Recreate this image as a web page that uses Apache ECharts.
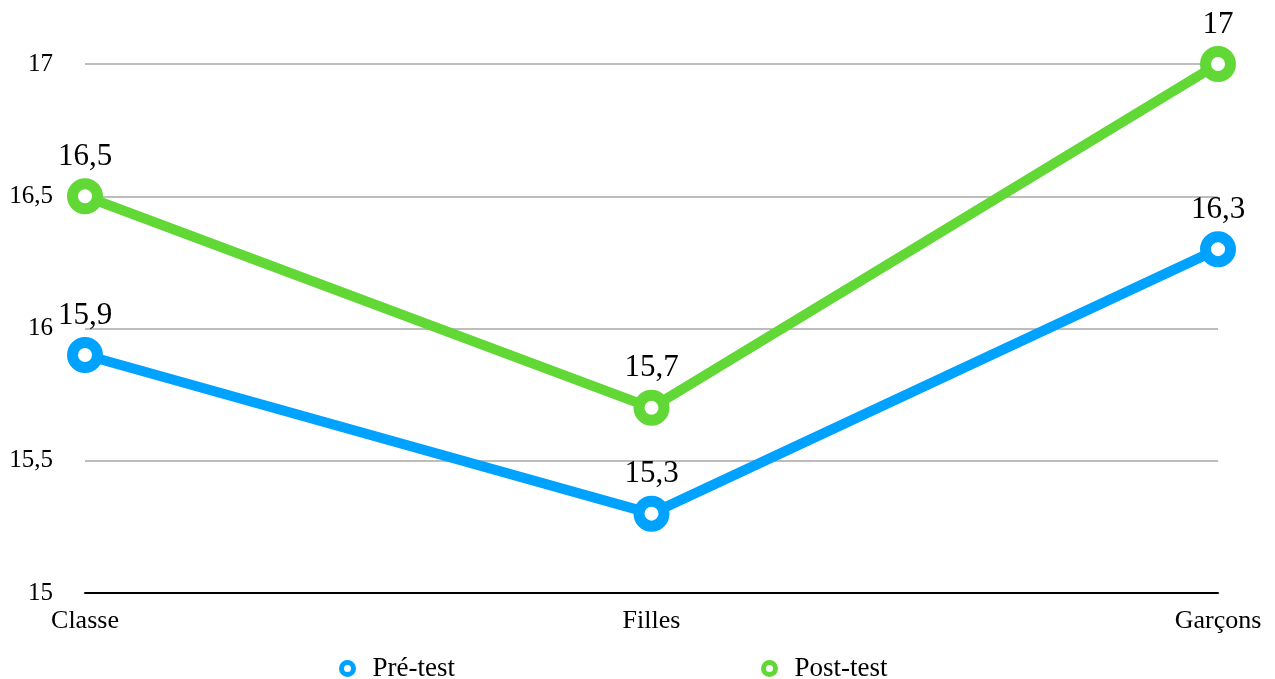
<!DOCTYPE html>
<html>
<head>
<meta charset="utf-8">
<script src="https://cdn.jsdelivr.net/npm/echarts@6/dist/echarts.min.js"></script>
<style>
    html, body { margin: 0; padding: 0; background: #ffffff; }
    #chart { width: 1275px; height: 679px; }
</style>
</head>
<body>
<div id="chart"></div>
<script>
    // data
    var categories = ["Classe", "Filles", "Garçons"];
    var preTest = [15.9, 15.3, 16.3];
    var postTest = [16.5, 15.7, 17];
    var seriesNames = ["Pré-test", "Post-test"];
    var seriesColors = ["#00A2FF", "#61D836"];

    var font = "'Liberation Serif', 'DejaVu Serif', serif";
    var comma = function (v) { return String(v).replace('.', ','); };

    function makeSeries(name, data, color){
        return {
            name: name,
            type: 'line',
            data: data,
            symbol: 'circle',
            symbolSize: 25,
            lineStyle: { width: 10, color: color },
            itemStyle: { color: '#ffffff', borderColor: color, borderWidth: 11 },
            label: {
                show: true,
                position: 'top',
                distance: 6,
                color: '#000000',
                fontFamily: font,
                fontSize: 31,
                formatter: function (p) { return comma(p.value); }
            },
            emphasis: { disabled: true },
            z: 3
        };
    }

    function makeLegend(i, left){
        return {
            data: [{ name: seriesNames[i], itemStyle: { color: '#ffffff', borderColor: seriesColors[i], borderWidth: 5 } }],
            left: left, top: 650,
            icon: 'circle', itemWidth: 12, itemHeight: 12,
            textStyle: { fontFamily: font, fontSize: 27, color: '#000000', padding: [0, 0, 0, 14] }
        };
    }

    var chart = echarts.init(document.getElementById('chart'));
    chart.setOption({
        animation: false,
        backgroundColor: '#ffffff',
        grid: { left: 85, right: 57, top: 64, bottom: 86, containLabel: false },
        legend: [makeLegend(0, 334), makeLegend(1, 756)],
        xAxis: {
            type: 'category',
            boundaryGap: false,
            data: categories,
            axisLine: { lineStyle: { color: '#000000', width: 2 } },
            axisTick: { show: false },
            axisLabel: { fontFamily: font, fontSize: 26, color: '#000000', margin: 15 }
        },
        yAxis: {
            type: 'value',
            min: 15,
            max: 17,
            interval: 0.5,
            axisLine: { show: false },
            axisTick: { show: false },
            axisLabel: { fontFamily: font, fontSize: 25, color: '#000000', margin: 32, formatter: comma },
            splitLine: { lineStyle: { color: '#BDBDBD', width: 2 } }
        },
        series: [
            makeSeries(seriesNames[0], preTest, seriesColors[0]),
            makeSeries(seriesNames[1], postTest, seriesColors[1])
        ]
    });
</script>
</body>
</html>
